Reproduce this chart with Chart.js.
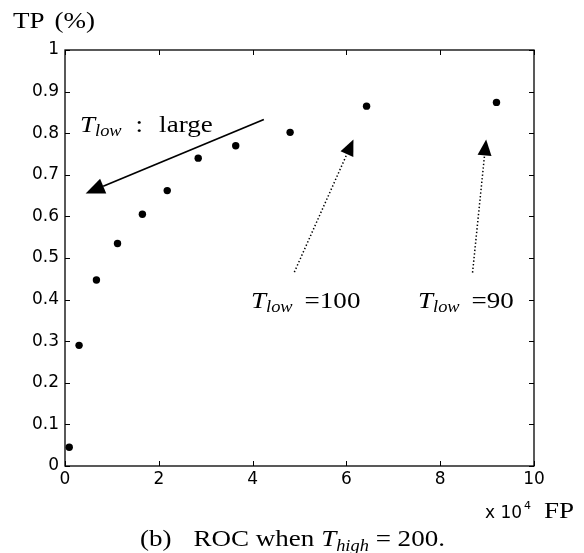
<!DOCTYPE html>
<html>
<head>
<meta charset="utf-8">
<script src="https://cdn.jsdelivr.net/npm/chart.js@4/dist/chart.umd.min.js"></script>
<style>
  html, body { margin: 0; padding: 0; background: #fff; }
  #wrap { width: 584px; height: 553px; }
</style>
</head>
<body>
<div id="wrap"><canvas id="roc" width="584" height="553"></canvas></div>
<script>
  /* ---- data ---- */
  const fpValues = [0.09, 0.30, 0.67, 1.12, 1.65, 2.18, 2.84, 3.64, 4.80, 6.43, 9.20];   // x 10^4
  const tpValues = [0.045, 0.29, 0.447, 0.535, 0.605, 0.662, 0.740, 0.770, 0.802, 0.865, 0.874];

  const xTickValues = [0, 2, 4, 6, 8, 10];
  const xTickLabels = ["0", "2", "4", "6", "8", "10"];
  const yTickValues = [0, 0.1, 0.2, 0.3, 0.4, 0.5, 0.6, 0.7, 0.8, 0.9, 1];
  const yTickLabels = ["0", "0.1", "0.2", "0.3", "0.4", "0.5", "0.6", "0.7", "0.8", "0.9", "1"];

  // arrows in data coordinates: [fromX, fromY, toX, toY]
  const solidArrow = [4.24, 0.833, 0.44, 0.655];
  const dottedArrows = [
    [4.89, 0.466, 6.15, 0.785],
    [8.69, 0.465, 8.98, 0.785]
  ];

  const SANS = "'DejaVu Sans', sans-serif";
  const SERIF = "'Liberation Serif', 'Times New Roman', serif";
  const SX = 1.15;   // serif text in the figure is a bit wider than it is tall

  // draws a run of text pieces; sx stretches a piece horizontally
  function richText(ctx, x, y, parts) {
    ctx.textBaseline = "alphabetic";
    ctx.textAlign = "left";
    parts.forEach(p => {
      const sx = p.sx || 1;
      ctx.font = p.font;
      ctx.save();
      ctx.translate(x, y + (p.dy || 0));
      ctx.scale(sx, 1);
      ctx.fillText(p.t, 0, 0);
      ctx.restore();
      x += ctx.measureText(p.t).width * sx + (p.gap || 0);
    });
  }

  function arrow(ctx, x1, y1, x2, y2, dotted, headLen, headHalf, lw) {
    const ang = Math.atan2(y2 - y1, x2 - x1);
    const bx = x2 - headLen * Math.cos(ang);
    const by = y2 - headLen * Math.sin(ang);
    ctx.save();
    ctx.lineWidth = lw;
    ctx.strokeStyle = "#000";
    if (dotted) ctx.setLineDash([1.4, 2.2]);
    ctx.beginPath();
    ctx.moveTo(x1, y1);
    ctx.lineTo(bx, by);
    ctx.stroke();
    ctx.setLineDash([]);
    ctx.beginPath();
    ctx.moveTo(x2, y2);
    ctx.lineTo(bx + headHalf * Math.sin(ang), by - headHalf * Math.cos(ang));
    ctx.lineTo(bx - headHalf * Math.sin(ang), by + headHalf * Math.cos(ang));
    ctx.closePath();
    ctx.fillStyle = "#000";
    ctx.fill();
    ctx.restore();
  }

  const decor = {
    id: "decor",
    afterDraw(chart) {
      const ctx = chart.ctx;
      const a = chart.chartArea;
      const xs = chart.scales.x, ys = chart.scales.y;

      ctx.save();
      ctx.strokeStyle = "#000";
      ctx.lineWidth = 1.3;
      ctx.strokeRect(a.left, a.top, a.right - a.left, a.bottom - a.top);

      // inward ticks on all four sides
      ctx.lineWidth = 1;
      ctx.beginPath();
      xTickValues.forEach(v => {
        const px = Math.round(xs.getPixelForValue(v)) + 0.5;
        ctx.moveTo(px, a.bottom); ctx.lineTo(px, a.bottom - 5);
        ctx.moveTo(px, a.top); ctx.lineTo(px, a.top + 5);
      });
      yTickValues.forEach(v => {
        const py = Math.round(ys.getPixelForValue(v)) + 0.5;
        ctx.moveTo(a.left, py); ctx.lineTo(a.left + 5, py);
        ctx.moveTo(a.right, py); ctx.lineTo(a.right - 5, py);
      });
      ctx.stroke();

      // arrows
      arrow(ctx,
        xs.getPixelForValue(solidArrow[0]), ys.getPixelForValue(solidArrow[1]),
        xs.getPixelForValue(solidArrow[2]), ys.getPixelForValue(solidArrow[3]),
        false, 19, 8, 1.8);
      dottedArrows.forEach(d => arrow(ctx,
        xs.getPixelForValue(d[0]), ys.getPixelForValue(d[1]),
        xs.getPixelForValue(d[2]), ys.getPixelForValue(d[3]),
        true, 16, 7, 1.5));

      ctx.fillStyle = "#000";
      const it = "italic 23.5px " + SERIF;
      const sub = "italic 16px " + SERIF;
      const rm = "23.5px " + SERIF;

      // annotations
      richText(ctx, 80, 132, [
        { t: "T", font: it, sx: SX }, { t: "low", font: sub, dy: 4, sx: SX, gap: 14 },
        { t: ":", font: rm, sx: SX, gap: 16 },
        { t: "large", font: rm, sx: SX }
      ]);
      richText(ctx, 251, 308, [
        { t: "T", font: it, sx: SX }, { t: "low", font: sub, dy: 4, sx: SX, gap: 12 },
        { t: "=100", font: rm, sx: SX }
      ]);
      richText(ctx, 418, 308, [
        { t: "T", font: it, sx: SX }, { t: "low", font: sub, dy: 4, sx: SX, gap: 12 },
        { t: "=90", font: rm, sx: SX }
      ]);

      // axis titles
      richText(ctx, 13, 28, [{ t: "TP", font: rm, sx: SX, gap: 10 }, { t: "(%)", font: rm, sx: SX }]);
      richText(ctx, 485, 518, [
        { t: "x 10", font: "17px " + SANS, gap: 2 },
        { t: "4", font: "11px " + SANS, dy: -9, gap: 13 },
        { t: "FP", font: rm, sx: SX }
      ]);

      // caption
      richText(ctx, 140, 546, [
        { t: "(b)", font: rm, sx: SX, gap: 22 },
        { t: "ROC when ", font: rm, sx: SX },
        { t: "T", font: it, sx: SX },
        { t: "high", font: sub, dy: 5, sx: SX },
        { t: " = 200.", font: rm, sx: SX }
      ]);
      ctx.restore();
    }
  };

  new Chart(document.getElementById("roc"), {
    type: "scatter",
    data: {
      datasets: [{
        data: fpValues.map((x, i) => ({ x: x, y: tpValues[i] })),
        backgroundColor: "#000",
        borderColor: "#000",
        pointRadius: 3.7,
        pointHoverRadius: 3.7,
        borderWidth: 0
      }]
    },
    options: {
      responsive: false,
      animation: false,
      events: [],
      layout: { padding: { top: 50, right: 50, left: 0, bottom: 0 } },
      plugins: { legend: { display: false }, tooltip: { enabled: false } },
      scales: {
        x: {
          type: "linear",
          min: 0, max: 10,
          grid: { display: false, drawTicks: false },
          border: { display: false },
          afterBuildTicks: s => { s.ticks = xTickValues.map(v => ({ value: v })); },
          afterFit: s => { s.height = 87; },
          ticks: {
            padding: 3,
            autoSkip: false,
            maxRotation: 0,
            color: "#000",
            font: { family: SANS, size: 17 },
            callback: (v, i) => xTickLabels[i]
          }
        },
        y: {
          type: "linear",
          min: 0, max: 1,
          grid: { display: false, drawTicks: false },
          border: { display: false },
          afterBuildTicks: s => { s.ticks = yTickValues.map(v => ({ value: v })); },
          afterFit: s => { s.width = 65; },
          ticks: {
            padding: 6,
            autoSkip: false,
            color: "#000",
            font: { family: SANS, size: 17 },
            callback: (v, i) => yTickLabels[i]
          }
        }
      }
    },
    plugins: [decor]
  });
</script>
</body>
</html>
